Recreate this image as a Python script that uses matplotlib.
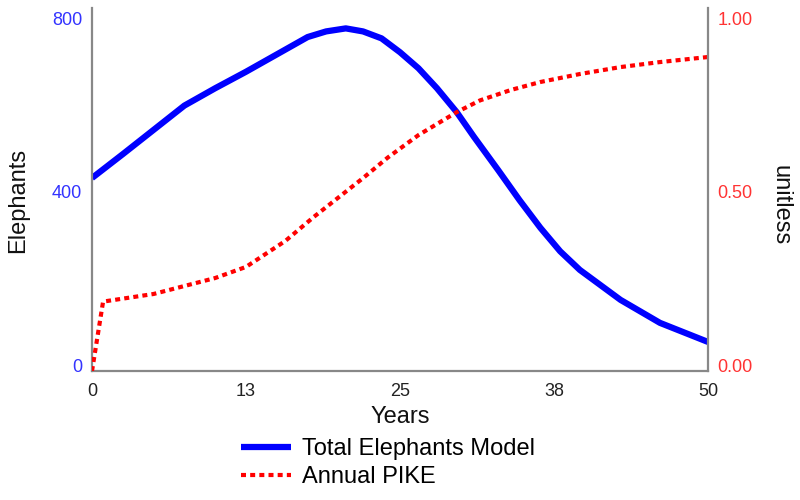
import matplotlib
matplotlib.use('Agg')
import matplotlib.pyplot as plt
from matplotlib.transforms import ScaledTranslation

plt.rcParams['font.family'] = ['Liberation Sans', 'DejaVu Sans']

# values
elephant_years = [0, 2.5, 5, 7.5, 10, 12.5, 15, 17.5, 19, 20.6, 22, 23.5, 25, 26.5, 28,
                  29.6, 31, 33, 34.7, 36.4, 38, 39.6, 42.9, 46.1, 50]
elephants = [445, 500, 556, 612, 652, 690, 730, 770, 783, 790, 783, 767, 735, 698, 652,
             597, 540, 462, 394, 330, 276, 233, 164, 111, 67]

pike_years = [0, 0.9, 5, 10, 12.5, 15.7, 18, 20, 22, 24, 26.5, 29.6, 31.5, 34, 36.4,
              39.6, 42.9, 46, 50]
pike = [0, 0.20, 0.222, 0.268, 0.30, 0.375, 0.444, 0.50, 0.556, 0.615, 0.68, 0.746, 0.78,
        0.81, 0.833, 0.856, 0.876, 0.89, 0.905]

x_ticks = [0, 12.5, 25, 37.5, 50]
x_labels = ['0', '13', '25', '38', '50']
left_ticks = [0, 400, 800]
right_ticks = [0, 0.5, 1.0]
right_labels = ['0.00', '0.50', '1.00']

fig = plt.figure(figsize=(8, 5), dpi=100)
ax = fig.add_axes([92 / 800, 1 - 371 / 500, (708 - 92) / 800, (371 - 8) / 500])
ax2 = ax.twinx()

l1, = ax.plot(elephant_years, elephants, color='#0000ff', lw=4.5, solid_capstyle='butt',
              solid_joinstyle='round', label='Total Elephants Model')
l2, = ax2.plot(pike_years, pike, color='#ff0000', lw=3, linestyle=(0, (1.2, 1.0)),
               label='Annual PIKE')

ax.set_xlim(0, 50)
ax.set_ylim(0, 837)
ax2.set_ylim(0, 837 / 800)

ax.set_xticks(x_ticks)
ax.set_xticklabels(x_labels)
ax.set_yticks(left_ticks)
ax.set_yticklabels([str(v) for v in left_ticks])
ax2.set_yticks(right_ticks)
ax2.set_yticklabels(right_labels)

for a in (ax, ax2):
    a.spines['top'].set_visible(False)
    for s in ['left', 'right', 'bottom']:
        a.spines[s].set_color('#888888')
        a.spines[s].set_linewidth(1.6)
ax.spines['right'].set_visible(False)
ax2.spines['left'].set_visible(False)
ax2.spines['bottom'].set_visible(False)

ax.tick_params(axis='x', length=0, pad=9, labelsize=13, labelcolor='#222222')
ax.tick_params(axis='y', length=0, pad=7, labelsize=13, labelcolor='#3333ff')
ax2.tick_params(axis='y', length=0, pad=7, labelsize=13, labelcolor='#ff3333')

# labels sit a bit above their gridline in the original
shift = ScaledTranslation(0, 0.06, fig.dpi_scale_trans)
for lbl in ax.get_yticklabels() + ax2.get_yticklabels():
    lbl.set_transform(lbl.get_transform() + shift)

ax.set_xlabel('Years', fontsize=17, color='#111111', labelpad=4)
fig.text(18 / 800, 1 - 200 / 500, 'Elephants', rotation=90, fontsize=17,
         ha='center', va='center', color='#111111')
fig.text(781 / 800, 1 - 205 / 500, 'unitless', rotation=270, fontsize=17,
         ha='center', va='center', color='#111111')

fig.legend(handles=[l1, l2], loc='center', bbox_to_anchor=(388 / 800, 1 - 463 / 500),
           frameon=False, fontsize=17, handlelength=2.1, handletextpad=0.45,
           labelspacing=0.25, borderpad=0)

fig.savefig('out.png', dpi=100)
